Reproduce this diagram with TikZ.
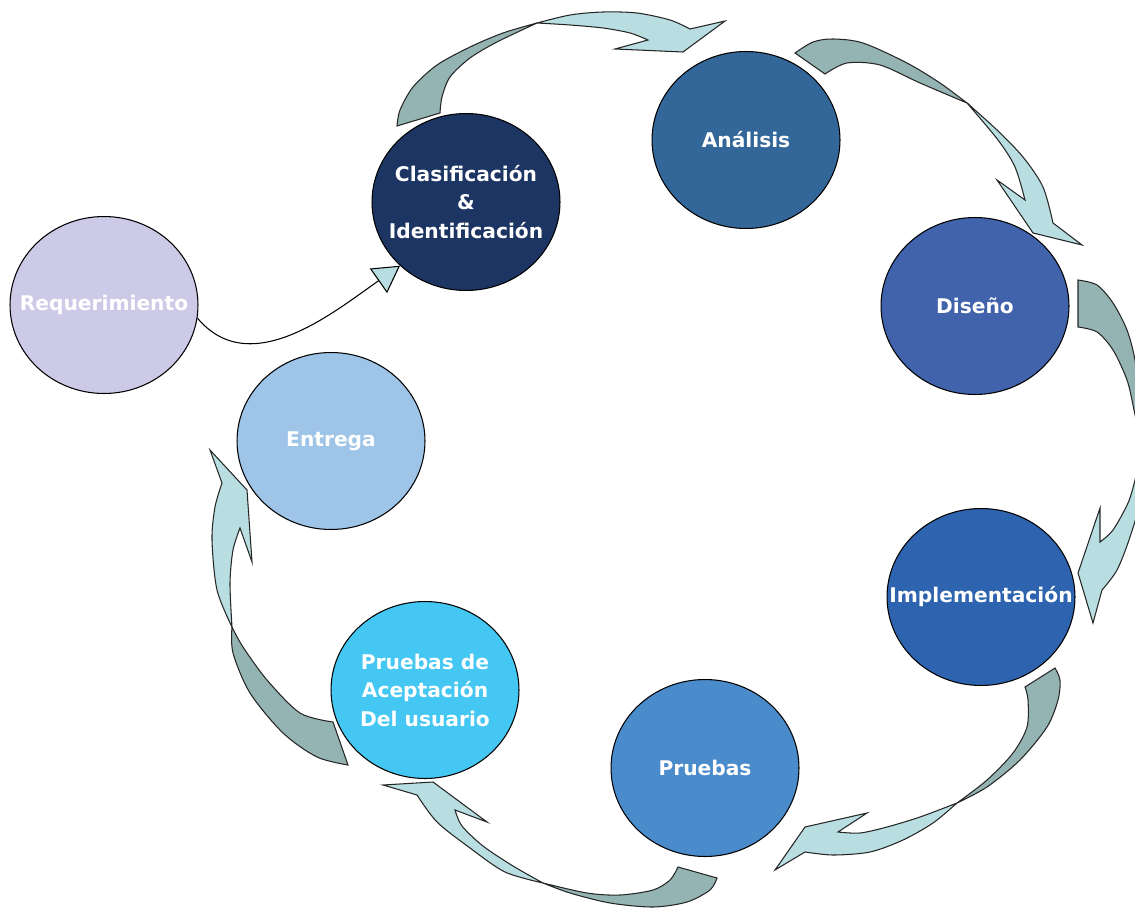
\documentclass[tikz,border=0pt]{standalone}
\usepackage{fontspec}
\setmainfont{DejaVu Sans}
\usetikzlibrary{arrows.meta, shapes.geometric}
\definecolor{reqfill}{HTML}{CDCAE7}
\definecolor{clasfill}{HTML}{1C3562}
\definecolor{analfill}{HTML}{336699}
\definecolor{disefill}{HTML}{4163AC}
\definecolor{implfill}{HTML}{2E64AF}
\definecolor{pruefill}{HTML}{4A8BCB}
\definecolor{acepfill}{HTML}{44C7F2}
\definecolor{entrfill}{HTML}{9EC4E8}
\definecolor{bandback}{HTML}{94B3B3}
\definecolor{bandfront}{HTML}{B8DEE2}

\begin{document}
\begin{tikzpicture}[x=0.02cm, y=0.02cm,
      phase/.style={ellipse, draw, line width=0.6pt, minimum width=3.76cm, minimum height=3.54cm, inner sep=0pt},
      phasetext/.style={text=white, align=center, inner sep=0pt, font=\bfseries\fontsize{11.5}{16.2}\selectfont},
      backpart/.style={fill=bandback, draw=black!85, line width=0.6pt},
      frontpart/.style={fill=bandfront, draw=black!85, line width=0.6pt}]
    \useasboundingbox (0,0) rectangle (1135,-912);

    \node[phase, fill=reqfill, label={[phasetext]center:Requerimiento}] (req) at (104,-305) {};
    \node[phase, fill=clasfill, label={[phasetext]center:{Clasificación\\\&\\Identificación}}] (clas) at (466,-202) {};
    \node[phase, fill=analfill, label={[phasetext]center:Análisis}] (anal) at (746,-140) {};
    \node[phase, fill=disefill, label={[phasetext]center:Diseño}] (dise) at (975,-306) {};
    \node[phase, fill=implfill, label={[phasetext]center:Implementación}] (impl) at (981,-597) {};
    \node[phase, fill=pruefill, label={[phasetext]center:Pruebas}] (prue) at (705,-768) {};
    \node[phase, fill=acepfill, label={[phasetext]center:{Pruebas de\\Aceptación\\Del usuario}}] (acep) at (425,-690) {};
    \node[phase, fill=entrfill, label={[phasetext]center:Entrega}] (entr) at (331,-441) {};

    \draw[line width=0.6pt, -{Triangle[length=15pt, width=17pt, fill=bandfront]}]
      (req.-8) to[out=-50, in=215] (clas.224);

    % clasificacion -> analisis
    \filldraw[backpart] (397,-126) -- plot[smooth] coordinates {(397,-126) (400,-110) (413,-87) (437,-65) (470,-47) (503,-33) (537,-23)}
      -- plot[smooth] coordinates {(537,-23) (497,-42) (470,-58) (450,-77) (442,-97) (440,-113)} -- cycle;
    \filldraw[frontpart] (537,-23) -- plot[smooth] coordinates {(537,-23) (570,-15) (603,-12) (637,-13) (670,-20) (690,-29)}
      -- (725,-21) -- (683,-52) -- (615,-49) -- (648,-40)
      -- plot[smooth] coordinates {(648,-40) (630,-33) (603,-28) (570,-25) (537,-23)} -- cycle;

    % analisis -> diseno
    \filldraw[backpart] (795,-53) -- plot[smooth] coordinates {(795,-53) (813,-42) (833,-39) (863,-43) (907,-63) (940,-83) (967,-103)}
      -- plot[smooth] coordinates {(967,-103) (920,-83) (880,-65) (847,-63) (825,-74)} -- cycle;
    \filldraw[frontpart] (967,-103) -- plot[smooth] coordinates {(967,-103) (997,-130) (1023,-157) (1043,-187) (1053,-223)}
      -- (1082,-245) -- (1033,-233) -- (997,-180) -- (1025,-200)
      -- plot[smooth] coordinates {(1025,-200) (1015,-167) (998,-140) (967,-103)} -- cycle;

    % diseno -> implementacion
    \filldraw[backpart] (1078,-280) -- plot[smooth] coordinates {(1078,-280) (1097,-285) (1113,-303) (1127,-330) (1135,-360) (1140,-400) (1142,-450)}
      -- plot[smooth] coordinates {(1142,-450) (1134,-410) (1127,-380) (1113,-350) (1097,-332) (1078,-327)} -- cycle;
    \filldraw[frontpart] (1142,-450) -- plot[smooth] coordinates {(1142,-450) (1135,-480) (1128,-503) (1113,-530) (1100,-542)}
      -- (1100,-508) -- (1078,-573) -- (1093,-623) -- (1102,-590)
      -- plot[smooth] coordinates {(1102,-590) (1117,-570) (1130,-537) (1140,-500) (1142,-450)} -- cycle;

    % implementacion -> pruebas
    \filldraw[backpart] (1025,-687) -- plot[smooth] coordinates {(1025,-687) (1028,-700) (1027,-727) (1013,-753) (987,-780) (957,-803)}
      -- plot[smooth] coordinates {(957,-803) (987,-787) (1020,-760) (1047,-727) (1058,-700) (1060,-680) (1055,-668)} -- cycle;
    \filldraw[frontpart] (957,-803) -- plot[smooth] coordinates {(957,-803) (920,-817) (887,-827) (860,-833) (838,-832)}
      -- (867,-813) -- (805,-827) -- (775,-870) -- (805,-852)
      -- plot[smooth] coordinates {(805,-852) (833,-855) (870,-852) (903,-840) (933,-823) (957,-803)} -- cycle;

    % pruebas -> aceptacion
    \filldraw[backpart] (678,-867) -- plot[smooth] coordinates {(678,-867) (670,-880) (653,-890) (620,-895) (587,-893) (543,-883)}
      -- plot[smooth] coordinates {(543,-883) (570,-893) (610,-903) (653,-907) (687,-902) (710,-890) (717,-878)} -- cycle;
    \filldraw[frontpart] (543,-883) -- plot[smooth] coordinates {(543,-883) (505,-872) (470,-848) (437,-822) (417,-795)}
      -- (383,-785) -- (433,-782) -- (487,-822) -- (455,-810)
      -- plot[smooth] coordinates {(455,-810) (462,-826) (483,-846) (513,-866) (543,-883)} -- cycle;

    % aceptacion -> entrega
    \filldraw[backpart] (232,-627) -- plot[smooth] coordinates {(232,-627) (243,-647) (267,-680) (300,-713) (333,-722)}
      -- (348,-765) -- plot[smooth] coordinates {(348,-765) (317,-757) (283,-733) (250,-693) (233,-653) (232,-627)} -- cycle;
    \filldraw[frontpart] (232,-627) -- plot[smooth] coordinates {(232,-627) (217,-590) (212,-540) (215,-507) (222,-483)}
      -- (210,-450) -- (247,-490) -- (252,-562) -- (240,-528)
      -- plot[smooth] coordinates {(240,-528) (233,-550) (230,-583) (232,-627)} -- cycle;
  \end{tikzpicture}
\end{document}
